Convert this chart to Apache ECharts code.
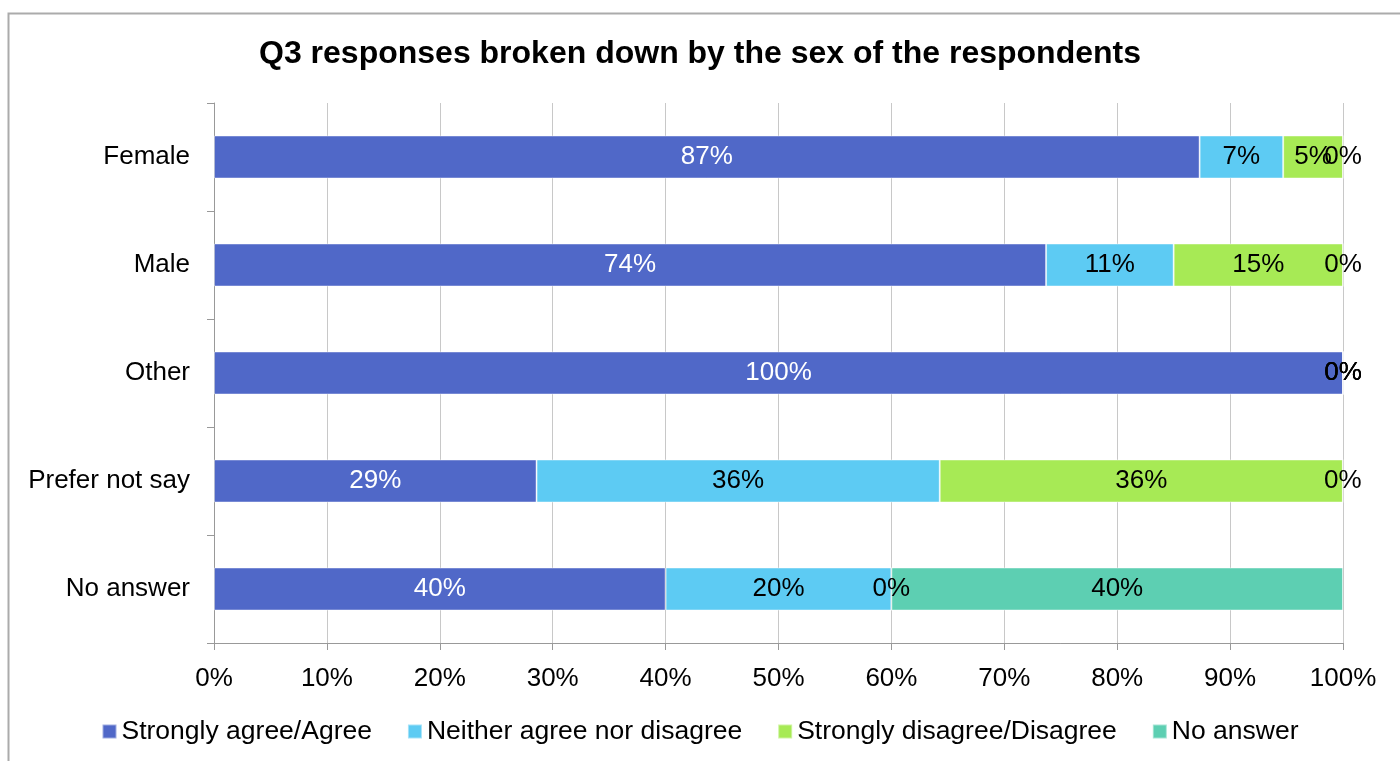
<!DOCTYPE html>
<html>
<head>
<meta charset="utf-8">
<script src="https://cdn.jsdelivr.net/npm/echarts@6/dist/echarts.min.js"></script>
<style>html,body{margin:0;padding:0;background:#fff}#c{width:1400px;height:761px}</style>
</head>
<body>
<div id="c"></div>
<script>
const categories = ['Female', 'Male', 'Other', 'Prefer not say', 'No answer'];
const seriesNames = ['Strongly agree/Agree', 'Neither agree nor disagree', 'Strongly disagree/Disagree', 'No answer'];
const agree = [87.3, 73.7, 100, 28.57, 40];
const neither = [7.4, 11.3, 0, 35.71, 20];
const disagree = [5.3, 15.0, 0, 35.71, 0];
const noAnswer = [0, 0, 0, 0, 40];
const xTicks = [0, 10, 20, 30, 40, 50, 60, 70, 80, 90, 100];

const colors = ['#5068C8', '#5DCBF3', '#A7EA55', '#5DCFB2'];
const labelColors = ['#ffffff', '#000000', '#000000', '#000000'];
const values = [agree, neither, disagree, noAnswer];
const FONT = '"Liberation Sans", Arial, sans-serif';

const chart = echarts.init(document.getElementById('c'), null, {renderer: 'canvas'});
chart.setOption({
  animation: false,
  backgroundColor: '#ffffff',
  color: colors,
  graphic: [{
    type: 'rect', left: 6, top: 11,
    shape: {x: 0, y: 0, width: 1420, height: 800},
    style: {fill: 'none', stroke: '#ababab', lineWidth: 2},
    silent: true, z: -1
  }],
  title: {
    text: 'Q3 responses broken down by the sex of the respondents',
    left: 'center', top: 33,
    textStyle: {fontFamily: FONT, fontSize: 32, fontWeight: 'bold', color: '#000'}
  },
  legend: {
    bottom: 11, left: 'center',
    icon: 'rect', itemWidth: 14, itemHeight: 14, itemGap: 35,
    textStyle: {fontFamily: FONT, fontSize: 26.5, color: '#000'},
    data: seriesNames
  },
  grid: {left: 214, right: 57, top: 103, bottom: 118, containLabel: false},
  xAxis: {
    type: 'value', min: xTicks[0], max: xTicks[xTicks.length - 1], interval: 10,
    axisLine: {show: true, lineStyle: {color: '#999', width: 1}},
    axisTick: {show: true, length: 7, lineStyle: {color: '#999'}},
    splitLine: {show: true, lineStyle: {color: '#c8c8c8', width: 1}},
    axisLabel: {fontFamily: FONT, fontSize: 26, color: '#000', margin: 23, formatter: v => v + '%'}
  },
  yAxis: {
    type: 'category', data: categories, inverse: true,
    axisLine: {show: true, lineStyle: {color: '#999', width: 1}},
    axisTick: {show: true, length: 7, lineStyle: {color: '#999'}},
    axisLabel: {fontFamily: FONT, fontSize: 26, color: '#000', margin: 24}
  },
  series: seriesNames.map((name, i) => ({
    name: name, type: 'bar', stack: 'total', barWidth: 43,
    data: values[i],
    itemStyle: {color: colors[i], borderColor: 'rgba(255,255,255,0.45)', borderWidth: 1},
    label: {
      show: true, position: 'inside',
      fontFamily: FONT, fontSize: 26, color: labelColors[i],
      formatter: p => Math.round(p.value) + '%'
    }
  }))
});
</script>
</body>
</html>
